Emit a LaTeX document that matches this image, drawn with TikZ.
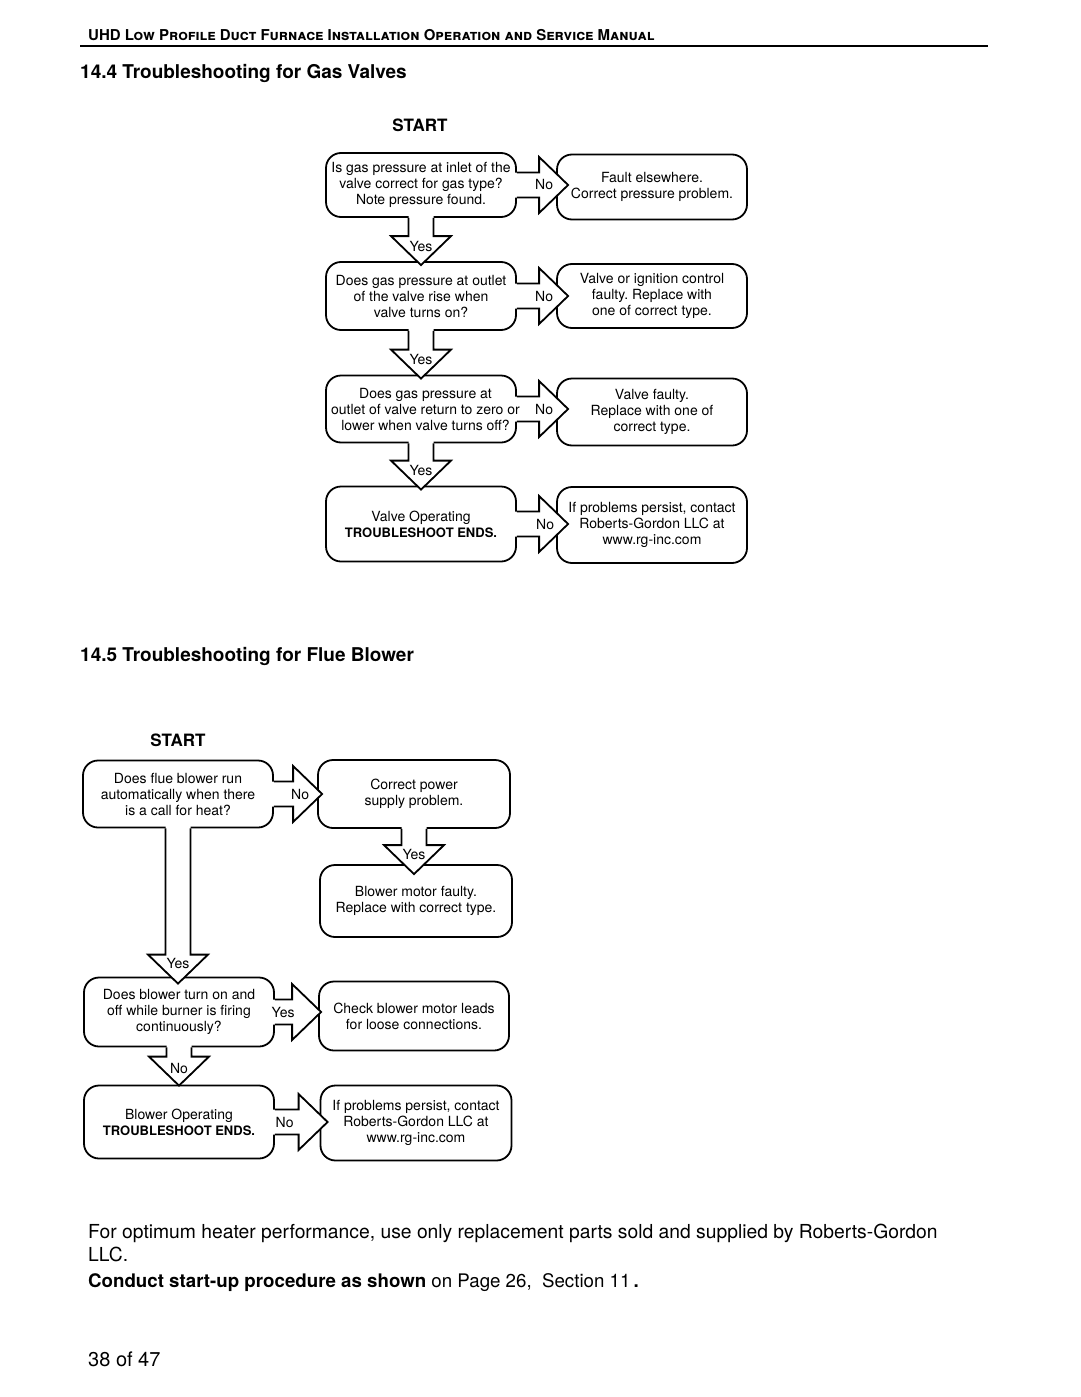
\documentclass[tikz,border=0pt]{standalone}
\usepackage{fontspec}
\setmainfont{TeX Gyre Heros}
\usetikzlibrary{calc}
\frenchspacing

\newcommand{\boxfont}{\fontsize{14}{16}\selectfont}

\tikzset{
  box/.style={draw, line width=1.8pt, rounded corners=15pt, minimum width=190pt,
    align=center, font=\boxfont, inner sep=0pt},
  lbl/.style={font=\boxfont, inner sep=0pt},
  blockarr/.style={line width=1.8pt, line join=miter},
  txt/.style={anchor=base west, inner sep=0pt},
}

% block arrow from the right side of box #2 into box #3
\newcommand{\harrow}[5][12]{%
  \fill[white] let \p1=(#2.east), \p2=(#3.west) in
    (\x1-3pt,\y1+12.5pt) -- (\x2+#1pt-29pt,\y1+12.5pt) -- (\x2+#1pt-29pt,\y1+28pt)
    -- (\x2+#1pt,\y1) -- (\x2+#1pt-29pt,\y1-28pt) -- (\x2+#1pt-29pt,\y1-12.5pt)
    -- (\x1-3pt,\y1-12.5pt) -- cycle;
  \draw[blockarr] let \p1=(#2.east), \p2=(#3.west) in
    (\x1,\y1+12.5pt) -- (\x2+#1pt-29pt,\y1+12.5pt) -- (\x2+#1pt-29pt,\y1+28pt)
    -- (\x2+#1pt,\y1) -- (\x2+#1pt-29pt,\y1-28pt) -- (\x2+#1pt-29pt,\y1-12.5pt)
    -- (\x1,\y1-12.5pt)
    node[lbl] (#2-#3) at (\x2+#1pt-#5pt,\y1) {#4};
}

% block arrow from the bottom of box #2 into box #3
\newcommand{\varrow}[5][4]{%
  \fill[white] let \p1=(#2.south), \p2=(#3.north) in
    (\x1-12.5pt,\y1+3pt) -- (\x1-12.5pt,\y2-#1pt+29pt) -- (\x1-30pt,\y2-#1pt+29pt)
    -- (\x1,\y2-#1pt) -- (\x1+30pt,\y2-#1pt+29pt) -- (\x1+12.5pt,\y2-#1pt+29pt)
    -- (\x1+12.5pt,\y1+3pt) -- cycle;
  \draw[blockarr] let \p1=(#2.south), \p2=(#3.north) in
    (\x1-12.5pt,\y1) -- (\x1-12.5pt,\y2-#1pt+29pt) -- (\x1-30pt,\y2-#1pt+29pt)
    -- (\x1,\y2-#1pt) -- (\x1+30pt,\y2-#1pt+29pt) -- (\x1+12.5pt,\y2-#1pt+29pt)
    -- (\x1+12.5pt,\y1)
    node[lbl] (#2-#3) at (\x1,\y2-#1pt+#5pt) {#4};
}

\begin{document}
\begin{tikzpicture}[x=1pt,y=-1pt]
\useasboundingbox (0,0) rectangle (1080,1397);

% page head
\node[txt, font=\bfseries\fontsize{15}{16}\selectfont] (head) at (88,41)
  {UHD \textsc{Low Profile Duct Furnace Installation Operation and Service Manual}};
\draw[line width=2pt] (80,46) -- (988,46);

%% 14.4 gas valves
\node[txt, font=\bfseries\fontsize{19}{22}\selectfont] (sec44) at (80,78)
  {14.4 Troubleshooting for Gas Valves};
\node[txt, font=\bfseries\fontsize{17}{20}\selectfont, anchor=base] (start1) at (420,131) {START};

\node[box, minimum height=64pt] (g1) at (421,185)
  {Is gas pressure at inlet of the\\valve correct for gas type?\\Note pressure found.};
\node[box, minimum height=65pt] (n1) at (652,187)
  {Fault elsewhere.\\Correct pressure problem.};
\node[box, minimum height=68pt] (g2) at (421,296)
  {Does gas pressure at outlet\\of the valve rise when\\valve turns on?};
\node[box, minimum height=64pt] (n2) at (652,296)
  {Valve or ignition control\\faulty. Replace with\\one of correct type.};
\node[box, minimum height=67pt] (g3) at (421,409) {};
\node[box, minimum height=67pt] (n3) at (652,412)
  {Valve faulty.\\Replace with one of\\correct type.};
\node[box, minimum height=75pt] (g4) at (421,524)
  {Valve Operating\\{\bfseries\fontsize{13}{16}\selectfont TROUBLESHOOT ENDS.}};
\node[box, minimum height=76pt] (n4) at (652,525)
  {If problems persist, contact\\Roberts-Gordon LLC at\\www.rg-inc.com};

\harrow{g1}{n1}{No}{24}
\harrow{g2}{n2}{No}{24}
\harrow{g3}{n3}{No}{24}
\harrow{g4}{n4}{No}{23}
\varrow{g1}{g2}{Yes}{19}
\varrow{g2}{g3}{Yes}{19}
\varrow{g3}{g4}{Yes}{19}
% this text runs into the arrow, so it goes on top
\node[lbl, align=center] (g3text) at ([xshift=4.5pt]g3.center)
  {Does gas pressure at\\outlet of valve return to zero or\\lower when valve turns off?};

%% 14.5 flue blower
\node[txt, font=\bfseries\fontsize{19}{22}\selectfont] (sec45) at (80,661)
  {14.5 Troubleshooting for Flue Blower};
\node[txt, font=\bfseries\fontsize{17}{20}\selectfont, anchor=base] (start2) at (178,746) {START};

\node[box, minimum height=67pt] (f1) at (178,794)
  {Does flue blower run\\automatically when there\\is a call for heat?};
\node[box, minimum height=68pt, minimum width=192pt] (c1) at (414,794)
  {Correct power\\supply problem.};
\node[box, minimum height=72pt, minimum width=192pt] (c2) at (416,901)
  {Blower motor faulty.\\Replace with correct type.};
\node[box, minimum height=69pt] (f2) at (179,1012)
  {Does blower turn on and\\off while burner is firing\\continuously?};
\node[box, minimum height=69pt] (c3) at (414,1016)
  {Check blower motor leads\\for loose connections.};
\node[box, minimum height=73pt] (f3) at (179,1122)
  {Blower Operating\\{\bfseries\fontsize{13}{16}\selectfont TROUBLESHOOT ENDS.}};
\node[box, minimum height=75pt, minimum width=191pt] (c4) at (416,1123)
  {If problems persist, contact\\Roberts-Gordon LLC at\\www.rg-inc.com};

\harrow[5]{f1}{c1}{No}{22}
\harrow[3]{f2}{c3}{Yes}{38}
\harrow[8]{f3}{c4}{No}{43}
\varrow[10]{c1}{c2}{Yes}{20}
\varrow[7]{f1}{f2}{Yes}{20}
\varrow[1]{f2}{f3}{No}{17}

% closing notes
\node[txt, font=\fontsize{19.3}{23}\selectfont] (note1) at (88,1238)
  {For optimum heater performance, use only replacement parts sold and supplied by Roberts-Gordon};
\node[txt, font=\fontsize{19.3}{23}\selectfont] (note2) at (88,1261) {LLC.};
\node[txt, font=\fontsize{18.7}{23}\selectfont] (note3) at (88,1287)
  {\textbf{Conduct start-up procedure as shown} on Page 26,\ \ Section 11\,\textbf{.}};
\node[txt, font=\fontsize{20}{23}\selectfont] (pagenum) at (88,1366) {38 of 47};
\end{tikzpicture}
\end{document}
